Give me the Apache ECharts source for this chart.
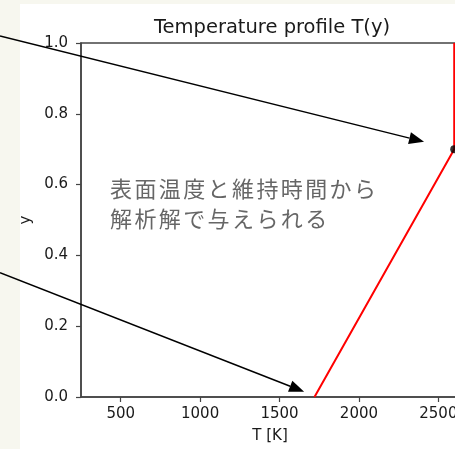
<!DOCTYPE html>
<html>
<head>
<meta charset="utf-8">
<script src="https://cdn.jsdelivr.net/npm/echarts@6/dist/echarts.min.js"></script>
<style>
  html, body { margin: 0; padding: 0; overflow: hidden; background: #f7f7ef; }
  #main { width: 460px; height: 449px; }
</style>
</head>
<body>
<div id="main"></div>
<script>
// temperature profile: T [K] vs y
var profileT = [1720, 2600, 2600];
var profileY = [0.0, 0.7, 1.0];
var pointT = [2600];
var pointY = [0.7];
// annotation arrows: [startT, startY, tipT, tipY]
var arrows = [
  [-260, 1.02, 2410, 0.721],
  [-260, 0.351, 1655, 0.015]
];
var xTicks = [500, 1000, 1500, 2000, 2500];
var noteLines = ['表面温度と維持時間から', '解析解で与えられる'];

var myChart = echarts.init(document.getElementById('main'));
var font = 'DejaVu Sans';

// annotation text, one character per cell to keep matplotlib's wide spacing
var noteText = [];
noteLines.forEach(function (line, r) {
  Array.from(line).forEach(function (ch, i) {
    noteText.push({
      type: 'text', x: 110 + i * 24.4, y: 178 + r * 30, z: 10,
      style: { text: ch, fontFamily: 'Noto Sans CJK JP', fontSize: 22, fill: '#666' }
    });
  });
});

option = {
  backgroundColor: '#f7f7ef',
  animation: false,
  title: {
    text: 'Temperature profile T(y)',
    left: 267,
    top: 13,
    textAlign: 'center',
    textStyle: { fontFamily: font, fontSize: 19.5, fontWeight: 'normal', color: '#1a1a1a' }
  },
  grid: {
    left: 81, top: 43, right: 1, bottom: 52,
    outerBoundsMode: 'none', containLabel: false,
    show: true, borderColor: '#444', borderWidth: 1.5
  },
  xAxis: {
    type: 'value',
    min: 250,
    max: 2630,
    name: 'T [K]',
    nameLocation: 'middle',
    nameGap: 32,
    nameTextStyle: { fontFamily: font, fontSize: 15, color: '#1a1a1a' },
    axisLine: { onZero: false, lineStyle: { color: '#444', width: 1.5 } },
    axisTick: { show: true, customValues: xTicks, length: 5, lineStyle: { color: '#444', width: 1.2 } },
    axisLabel: {
      customValues: xTicks, fontFamily: font, fontSize: 15, color: '#1a1a1a', margin: 10,
      formatter: function (v) { return String(v); }
    },
    splitLine: { show: false }
  },
  yAxis: {
    type: 'value',
    min: 0,
    max: 1,
    interval: 0.2,
    name: 'y',
    nameLocation: 'middle',
    nameGap: 40,
    nameTextStyle: { fontFamily: font, fontSize: 15, color: '#1a1a1a' },
    axisLine: { show: true, lineStyle: { color: '#444', width: 1.5 } },
    axisTick: { show: true, length: 5, lineStyle: { color: '#444', width: 1.2 } },
    axisLabel: {
      fontFamily: font, fontSize: 15, color: '#1a1a1a', margin: 13,
      formatter: function (v) { return v.toFixed(1); }
    },
    splitLine: { show: false }
  },
  graphic: [
    { type: 'rect', z: -10, shape: { x: 20, y: 4, width: 460, height: 460 }, style: { fill: '#ffffff' } }
  ].concat(noteText),
  series: [
    {
      type: 'line',
      data: profileT.map(function (t, i) { return [t, profileY[i]]; }),
      symbol: 'none',
      lineStyle: { color: '#ff0000', width: 2 },
      z: 3
    },
    {
      type: 'scatter',
      data: pointT.map(function (t, i) { return [t, pointY[i]]; }),
      symbolSize: 8,
      itemStyle: { color: '#000' },
      clip: false,
      z: 4
    },
    {
      type: 'custom',
      data: arrows,
      clip: false,
      z: 5,
      renderItem: function (params, api) {
        var p0 = api.coord([api.value(0), api.value(1)]);
        var p1 = api.coord([api.value(2), api.value(3)]);
        var dx = p1[0] - p0[0], dy = p1[1] - p0[1];
        var len = Math.sqrt(dx * dx + dy * dy);
        var ux = dx / len, uy = dy / len;
        var hl = 15, hw = 6;
        var bx = p1[0] - ux * hl, by = p1[1] - uy * hl;
        return {
          type: 'group',
          children: [
            { type: 'line', shape: { x1: p0[0], y1: p0[1], x2: bx, y2: by }, style: { stroke: '#000', lineWidth: 1.5 } },
            {
              type: 'polygon',
              shape: { points: [[p1[0], p1[1]], [bx - uy * hw, by + ux * hw], [bx + uy * hw, by - ux * hw]] },
              style: { fill: '#000' }
            }
          ]
        };
      }
    }
  ]
};

myChart.setOption(option);
</script>
</body>
</html>
